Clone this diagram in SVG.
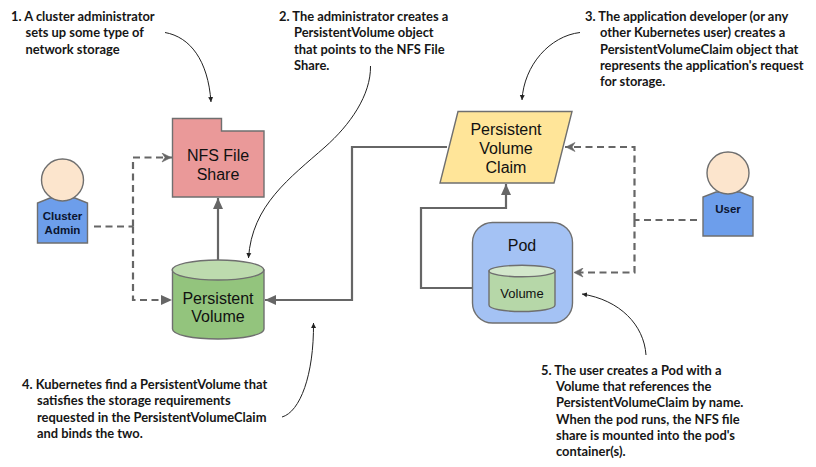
<svg xmlns="http://www.w3.org/2000/svg" width="816" height="467" viewBox="0 0 816 467">
<style>
.note{font:700 12.900px Lato,"Liberation Sans",sans-serif;fill:#161616}
.lbl{font:16px "Liberation Sans",Arial,sans-serif;fill:#111;text-anchor:middle}
.who{font:700 11.500px "Liberation Sans",Arial,sans-serif;fill:#0b1530;text-anchor:middle}
.shape{stroke:#6f6f6f;stroke-width:1.4}
.solid{fill:none;stroke:#666;stroke-width:2.200}
.dash{fill:none;stroke:#666;stroke-width:2.200;stroke-dasharray:7 4.500}
.thin{fill:none;stroke:#222;stroke-width:1}
</style>
<defs>
<marker id="fa" markerUnits="userSpaceOnUse" markerWidth="12" markerHeight="10" refX="11" refY="5" orient="auto"><path d="M0 0L11 5L0 10Z" fill="#666"/></marker>
<marker id="oa" markerUnits="userSpaceOnUse" markerWidth="12" markerHeight="10" refX="11" refY="5" orient="auto"><path d="M1 .5L10 5L1 9.500L4 5Z" fill="#666" stroke="#666" stroke-width=".6"/></marker>
<marker id="ta" markerUnits="userSpaceOnUse" markerWidth="6" markerHeight="6" refX="5" refY="3" orient="auto"><path d="M0 .5L5 3L0 5.500Z" fill="#222"/></marker>
</defs>
<g id="connectors">
<path class="solid" d="M218 260V198" marker-end="url(#fa)"/>
<path class="solid" d="M447 147H352V300H265" marker-end="url(#fa)"/>
<path class="solid" d="M489 288H421V208H506V184" marker-end="url(#fa)"/>
<path class="dash" d="M94 226.500H133"/>
<path class="dash" d="M133 226.500V157.500H172" marker-end="url(#oa)"/>
<path class="dash" d="M133 226.500V300H172" marker-end="url(#fa)"/>
<path class="dash" d="M697 220H634.500"/>
<path class="dash" d="M634.500 220V147H565" marker-end="url(#oa)"/>
<path class="dash" d="M634.500 220V272.500H573" marker-end="url(#oa)"/>
<path class="thin" d="M165 32.500C190 37 208 60 211 102" marker-end="url(#ta)"/>
<path class="thin" d="M370.500 66C371 95 350 125 325 147C290 178 252 205 248.500 258" marker-end="url(#ta)"/>
<path class="thin" d="M580 32.500C550 36 524 65 522 100" marker-end="url(#ta)"/>
<path class="thin" d="M282 417C300 412 314 375 313.500 323" marker-end="url(#ta)"/>
<path class="thin" d="M646 355C644 325 620 300 582 294" marker-end="url(#ta)"/>
</g>
<g id="nfs"><path class="shape" fill="#ea9999" d="M172.500 118.500H221.500V131H264V197H172.500Z"/><text class="lbl" x="218" y="161">NFS File</text><text class="lbl" x="218" y="180">Share</text></g>
<g id="pv"><path class="shape" fill="#93c47d" d="M172.500 270V329C172.500 335 193 339 218 339S264 335 264 329V270Z"/><ellipse class="shape" cx="218" cy="270" rx="45.800" ry="10" fill="#bddbae"/><text class="lbl" x="218" y="304">Persistent</text><text class="lbl" x="218" y="322">Volume</text></g>
<g id="admin"><path class="shape" fill="#6d9eeb" d="M37.500 243V203L50 198H75L87.500 203V243Z"/><circle class="shape" cx="62.500" cy="180" r="21" fill="#fce5cd"/><text class="who" x="62.500" y="220">Cluster</text><text class="who" x="62.500" y="233.500">Admin</text></g>
<g id="pvc"><path class="shape" fill="#ffe599" d="M458 111.500H572L554 183H440Z"/><text class="lbl" x="506" y="135">Persistent</text><text class="lbl" x="506" y="154">Volume</text><text class="lbl" x="506" y="172.500">Claim</text></g>
<g id="pod"><rect class="shape" fill="#a4c2f4" x="472.500" y="222.500" width="100" height="100.500" rx="20"/><text class="lbl" x="522" y="251">Pod</text></g>
<g id="volume"><path class="shape" fill="#b6d7a8" d="M489 271V305C489 309 504 311.500 522 311.500S555 309 555 305V271Z"/><ellipse class="shape" cx="522" cy="271" rx="33" ry="5.800" fill="#d3e7cb"/><text class="lbl" x="522" y="298" style="font-size:13px">Volume</text></g>
<g id="user"><path class="shape" fill="#6d9eeb" d="M703 236V197L716 192H740L753 197V236Z"/><circle class="shape" cx="728" cy="173" r="21" fill="#fce5cd"/><text class="who" x="728" y="213">User</text></g>
<g id="notes">
<text class="note" x="11" y="21">1. A cluster administrator</text><text class="note" x="25.500" y="37">sets up some type of</text><text class="note" x="25.500" y="54">network storage</text>
<text class="note" x="279" y="21">2. The administrator creates a</text><text class="note" x="294" y="37">PersistentVolume object</text><text class="note" x="294" y="54">that points to the NFS File</text><text class="note" x="294" y="70">Share.</text>
<text class="note" x="585" y="21">3. The application developer (or any</text><text class="note" x="600" y="37">other Kubernetes user) creates a</text><text class="note" x="600" y="54">PersistentVolumeClaim object that</text><text class="note" x="600" y="70">represents the application's request</text><text class="note" x="600" y="86">for storage.</text>
<text class="note" x="22" y="389">4. Kubernetes find a PersistentVolume that</text><text class="note" x="37" y="405">satisfies the storage requirements</text><text class="note" x="37" y="422">requested in the PersistentVolumeClaim</text><text class="note" x="37" y="438">and binds the two.</text>
<text class="note" x="541" y="375">5. The user creates a Pod with a</text><text class="note" x="556" y="391">Volume that references the</text><text class="note" x="556" y="407">PersistentVolumeClaim by name.</text><text class="note" x="556" y="423.500">When the pod runs, the NFS file</text><text class="note" x="556" y="440">share is mounted into the pod's</text><text class="note" x="556" y="456">container(s).</text>
</g>
</svg>
